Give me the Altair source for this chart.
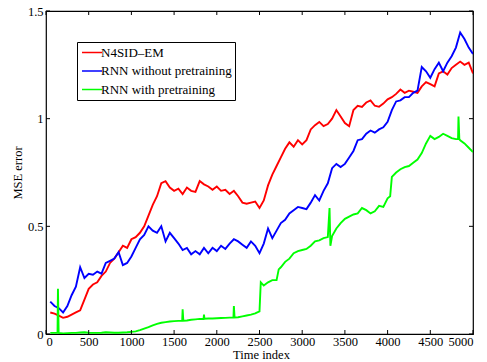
import altair as alt
import pandas as pd

series_names = ["N4SID–EM", "RNN without pretraining", "RNN with pretraining"]
colors = ["#ff0000", "#0000ff", "#00ff00"]

t_grid = list(range(50, 5001, 50))

red_v = [0.10, 0.095, 0.085, 0.075, 0.08, 0.09, 0.10, 0.11, 0.16, 0.21,
         0.23, 0.24, 0.27, 0.29, 0.33, 0.35, 0.38, 0.41, 0.40, 0.44,
         0.45, 0.47, 0.50, 0.55, 0.60, 0.64, 0.70, 0.71, 0.68, 0.665,
         0.675, 0.65, 0.68, 0.665, 0.66, 0.71, 0.695, 0.685, 0.67, 0.685,
         0.665, 0.67, 0.65, 0.665, 0.64, 0.61, 0.605, 0.61, 0.615, 0.585,
         0.62, 0.69, 0.74, 0.78, 0.82, 0.86, 0.89, 0.87, 0.90, 0.88,
         0.90, 0.95, 0.97, 0.985, 0.965, 0.975, 1.00, 1.04, 1.01, 0.98,
         0.965, 1.04, 1.06, 1.055, 1.075, 1.085, 1.06, 1.055, 1.07, 1.09,
         1.10, 1.115, 1.135, 1.12, 1.13, 1.125, 1.12, 1.15, 1.17, 1.16,
         1.15, 1.21, 1.22, 1.205, 1.235, 1.25, 1.265, 1.25, 1.26, 1.21]

blue_v = [0.15, 0.13, 0.12, 0.10, 0.13, 0.18, 0.22, 0.31, 0.26, 0.28,
          0.275, 0.29, 0.28, 0.33, 0.34, 0.35, 0.38, 0.32, 0.33, 0.36,
          0.40, 0.44, 0.46, 0.50, 0.48, 0.47, 0.50, 0.43, 0.47, 0.445,
          0.42, 0.39, 0.40, 0.37, 0.385, 0.37, 0.40, 0.375, 0.40, 0.385,
          0.41, 0.395, 0.42, 0.44, 0.43, 0.415, 0.40, 0.43, 0.41, 0.375,
          0.42, 0.49, 0.445, 0.48, 0.515, 0.53, 0.56, 0.575, 0.59, 0.585,
          0.58, 0.61, 0.645, 0.62, 0.665, 0.70, 0.77, 0.79, 0.775, 0.79,
          0.82, 0.85, 0.90, 0.905, 0.93, 0.945, 0.935, 0.95, 0.96, 0.985,
          1.04, 1.08, 1.085, 1.10, 1.10, 1.12, 1.13, 1.24, 1.22, 1.19,
          1.23, 1.26, 1.22, 1.26, 1.29, 1.33, 1.40, 1.37, 1.33, 1.30]

green_t = [50, 100, 135, 140, 148, 200, 250, 300, 350, 400, 450, 500, 550, 600,
           650, 700, 750, 800, 850, 900, 950, 1000, 1050, 1100, 1150, 1200,
           1250, 1300, 1350, 1400, 1450, 1500, 1550, 1595, 1600, 1608, 1650,
           1700, 1750, 1800, 1845, 1850, 1855, 1900, 1950, 2000, 2050, 2100,
           2150, 2195, 2200, 2208, 2250, 2300, 2350, 2400, 2450, 2500, 2515,
           2550, 2600, 2650, 2700, 2725, 2750, 2800, 2850, 2900, 2950, 3000,
           3050, 3100, 3150, 3200, 3250, 3300, 3320, 3330, 3350, 3400, 3450,
           3500, 3550, 3600, 3650, 3700, 3750, 3800, 3850, 3900, 3950, 4000,
           4030, 4050, 4100, 4150, 4200, 4250, 4300, 4350, 4400, 4450, 4500,
           4550, 4600, 4650, 4700, 4750, 4800, 4825, 4830, 4840, 4850, 4900,
           4950, 5000]
green_v = [0.005, 0.005, 0.005, 0.21, 0.005, 0.003, 0.004, 0.005, 0.005, 0.007,
           0.008, 0.006, 0.005, 0.005, 0.006, 0.008, 0.007, 0.006, 0.006, 0.007,
           0.008, 0.01, 0.012, 0.018, 0.025, 0.032, 0.04, 0.047, 0.052, 0.055,
           0.058, 0.06, 0.061, 0.062, 0.115, 0.062, 0.063, 0.066, 0.068, 0.07,
           0.07, 0.09, 0.071, 0.072, 0.072, 0.073, 0.074, 0.075, 0.076, 0.076,
           0.13, 0.077, 0.078, 0.082, 0.086, 0.09, 0.096, 0.105, 0.24, 0.225,
           0.24, 0.25, 0.25, 0.30, 0.31, 0.335, 0.35, 0.375, 0.385, 0.39,
           0.395, 0.41, 0.43, 0.435, 0.445, 0.45, 0.585, 0.41, 0.455, 0.49,
           0.515, 0.535, 0.545, 0.555, 0.56, 0.585, 0.575, 0.56, 0.57, 0.595,
           0.59, 0.63, 0.64, 0.73, 0.75, 0.765, 0.775, 0.78, 0.795, 0.81,
           0.84, 0.885, 0.92, 0.905, 0.915, 0.93, 0.92, 0.91, 0.905, 0.905,
           1.01, 0.905, 0.90, 0.885, 0.865, 0.845]

x_ticks = list(range(0, 5001, 500))
y_ticks = [0, 0.5, 1, 1.5]

rows = []
for t, v in zip(t_grid, red_v):
    rows.append({"t": t, "v": v, "s": series_names[0], "o": 0})
for t, v in zip(t_grid, blue_v):
    rows.append({"t": t, "v": v, "s": series_names[1], "o": 1})
for t, v in zip(green_t, green_v):
    rows.append({"t": t, "v": v, "s": series_names[2], "o": 2})
df = pd.DataFrame(rows)

W, H = 427, 323
FONT = "Liberation Serif"

xs = alt.Scale(domain=[0, 5000], nice=False, zero=False)
ys = alt.Scale(domain=[0, 1.5], nice=False, zero=False)

x_axis = alt.Axis(title="Time index", values=x_ticks, format="d", labelPadding=1,
                  titleY=24.6, titleX=215, titleBaseline="alphabetic")
y_axis = alt.Axis(title="MSE error", values=y_ticks, format="~g",
                  titleX=-25, titleBaseline="alphabetic")

lines = alt.Chart(df).mark_line(strokeWidth=1.9, clip=True).encode(
    x=alt.X("t:Q", scale=xs, axis=x_axis),
    y=alt.Y("v:Q", scale=ys, axis=y_axis),
    color=alt.Color("s:N", scale=alt.Scale(domain=series_names, range=colors),
                    legend=alt.Legend(title=None, orient="none", legendX=31, legendY=31,
                                      symbolType="M-1.54,0L1.54,0", symbolSize=169,
                                      symbolStrokeWidth=1.5, symbolOffset=4.5,
                                      labelFontSize=13,
                                      labelFont=FONT, labelColor="black",
                                      strokeColor="black", fillColor="white",
                                      padding=3, rowPadding=3.5, labelOffset=1.5,
                                      cornerRadius=0)),
    order="o:Q",
    detail="s:N",
)

xt = pd.DataFrame({"t": x_ticks})
yt = pd.DataFrame({"v": y_ticks})

xb = alt.Chart(xt).mark_rule(color="black", strokeWidth=1).encode(
    x=alt.X("t:Q", scale=xs, axis=x_axis), y=alt.value(H), y2=alt.value(H - 4))
xtop = alt.Chart(xt).mark_rule(color="black", strokeWidth=1).encode(
    x=alt.X("t:Q", scale=xs, axis=x_axis), y=alt.value(0), y2=alt.value(4))
yl = alt.Chart(yt).mark_rule(color="black", strokeWidth=1).encode(
    y=alt.Y("v:Q", scale=ys, axis=y_axis), x=alt.value(0), x2=alt.value(4))
yr = alt.Chart(yt).mark_rule(color="black", strokeWidth=1).encode(
    y=alt.Y("v:Q", scale=ys, axis=y_axis), x=alt.value(W), x2=alt.value(W - 4))

chart = alt.layer(lines, xb, xtop, yl, yr).properties(
    width=W, height=H,
    autosize=alt.AutoSizeParams(type="none"),
    padding={"left": 46, "top": 11, "right": 14, "bottom": 28},
    background="white",
).configure_view(stroke="black", strokeWidth=1.2).configure_axis(
    grid=False, domain=False, ticks=False, labelFont=FONT, titleFont=FONT,
    labelFontSize=12.5, titleFontSize=12.5, titleFontWeight="normal",
    labelColor="black", titleColor="black", labelPadding=3,
)

chart.save("out.html", embed_options={"renderer": "svg", "actions": False})
